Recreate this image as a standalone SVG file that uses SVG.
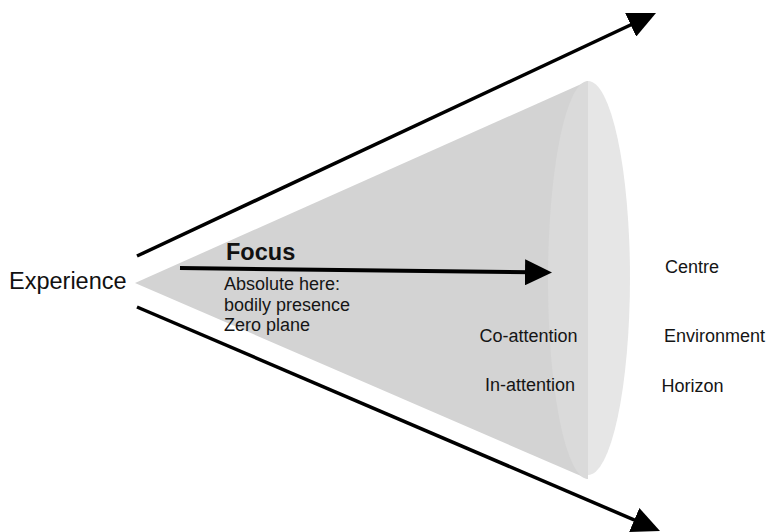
<svg xmlns="http://www.w3.org/2000/svg" width="770" height="532" viewBox="0 0 770 532">
<style>
.lbl{font-family:"Liberation Sans",Arial,sans-serif;fill:#151515;font-size:18px}
.big{font-family:"Liberation Sans",Arial,sans-serif;fill:#111;font-size:23.5px}
.conn{stroke:#000;fill:none}
</style>
<defs>
<marker id="head" markerUnits="userSpaceOnUse" markerWidth="28" markerHeight="26" refX="8" refY="13" orient="auto">
<path d="M0,0 L28,13 L0,26 Z" fill="#000"/>
</marker>
<marker id="fhead" markerUnits="userSpaceOnUse" markerWidth="27" markerHeight="26" refX="7" refY="13" orient="auto">
<path d="M0,0 L27,13 L0,26 Z" fill="#000"/>
</marker>
</defs>
<rect width="770" height="532" fill="#fff"/>
<g id="cone">
<polygon points="135,283 588,81 588,479" fill="#d3d3d3"/>
<path d="M588,81 A40,199 0 0 0 588,479 Z" fill="#dadada"/>
<path d="M588,81 A42,197 0 0 1 588,475 Z" fill="#e6e6e6"/>
</g>
<g id="connectors">
<line class="conn" x1="137" y1="256" x2="637.9" y2="21.5" stroke-width="3.5" marker-end="url(#head)"/>
<line class="conn" x1="137" y1="307" x2="641.6" y2="523.1" stroke-width="3.5" marker-end="url(#head)"/>
<line class="conn" x1="180" y1="268" x2="532" y2="272.3" stroke-width="4" marker-end="url(#fhead)"/>
</g>
<g id="experience"><text class="big" x="9" y="289">Experience</text></g>
<g id="focus">
<text class="big" x="226" y="260" font-weight="bold">Focus</text>
<text class="lbl" x="224" y="290" font-size="17.5">Absolute here:</text>
<text class="lbl" x="224" y="311" font-size="17.5">bodily presence</text>
<text class="lbl" x="224" y="331" font-size="17.5">Zero plane</text>
</g>
<g id="co-attention"><text class="lbl" x="479.5" y="342">Co-attention</text></g>
<g id="in-attention"><text class="lbl" x="485" y="391">In-attention</text></g>
<g id="centre"><text class="lbl" x="665" y="273">Centre</text></g>
<g id="environment"><text class="lbl" x="664" y="342">Environment</text></g>
<g id="horizon"><text class="lbl" x="661.5" y="391.5">Horizon</text></g>
</svg>
